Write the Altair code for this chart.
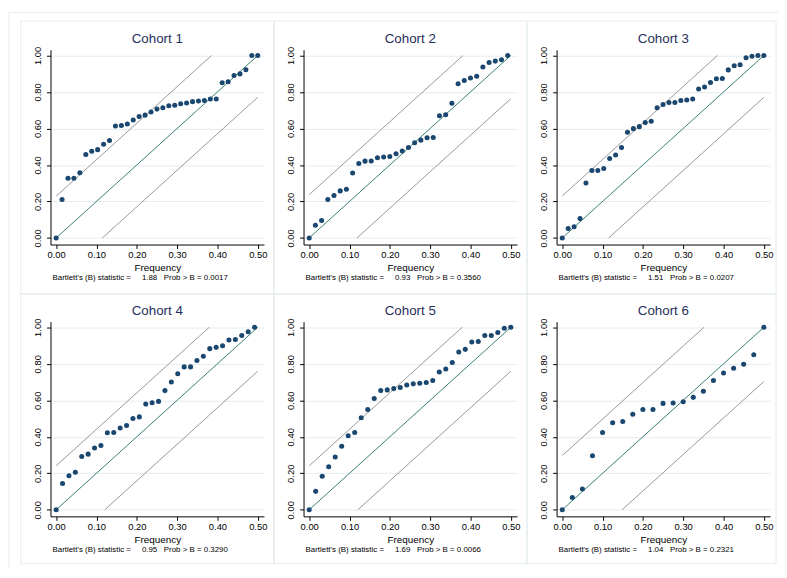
import altair as alt
import pandas as pd

# ---- data ----
cohorts = ["Cohort 1", "Cohort 2", "Cohort 3", "Cohort 4", "Cohort 5", "Cohort 6"]
# spacing of the Fourier frequencies (frequency = k / denom)
freq_denom = [68, 65, 68, 63, 62, 40]
cum_c1 = [0.000, 0.211, 0.327, 0.327, 0.357, 0.457, 0.475, 0.484, 0.514, 0.534, 0.614, 0.616,
          0.625, 0.646, 0.666, 0.673, 0.690, 0.706, 0.713, 0.724, 0.727, 0.735, 0.740, 0.747,
          0.751, 0.753, 0.762, 0.762, 0.850, 0.856, 0.890, 0.899, 0.922, 1.000, 1.000]
cum_c2 = [0.000, 0.070, 0.096, 0.211, 0.233, 0.258, 0.267, 0.356, 0.408, 0.421, 0.422, 0.440,
          0.444, 0.446, 0.462, 0.477, 0.496, 0.522, 0.536, 0.549, 0.551, 0.670, 0.675, 0.738,
          0.845, 0.863, 0.877, 0.886, 0.937, 0.962, 0.969, 0.977, 1.000]
cum_c3 = [0.000, 0.052, 0.061, 0.106, 0.301, 0.370, 0.370, 0.381, 0.435, 0.455, 0.495, 0.579,
          0.599, 0.610, 0.632, 0.639, 0.713, 0.731, 0.742, 0.742, 0.753, 0.756, 0.762, 0.816,
          0.827, 0.852, 0.872, 0.874, 0.921, 0.944, 0.949, 0.987, 0.996, 1.000, 1.000]
cum_c4 = [0.000, 0.144, 0.186, 0.206, 0.292, 0.305, 0.339, 0.352, 0.422, 0.424, 0.448, 0.462,
          0.500, 0.509, 0.579, 0.587, 0.594, 0.653, 0.700, 0.745, 0.783, 0.783, 0.818, 0.841,
          0.883, 0.890, 0.899, 0.930, 0.933, 0.955, 0.975, 1.000]
cum_c5 = [0.000, 0.101, 0.184, 0.236, 0.289, 0.348, 0.406, 0.424, 0.504, 0.549, 0.610, 0.653,
          0.657, 0.664, 0.670, 0.684, 0.690, 0.693, 0.697, 0.709, 0.755, 0.771, 0.807, 0.865,
          0.879, 0.919, 0.922, 0.955, 0.955, 0.971, 0.995, 1.000]
cum_c6 = [0.000, 0.067, 0.114, 0.296, 0.424, 0.477, 0.484, 0.523, 0.549, 0.549, 0.583, 0.585,
          0.592, 0.616, 0.650, 0.709, 0.749, 0.776, 0.798, 0.850, 1.000]
cum_values = [cum_c1, cum_c2, cum_c3, cum_c4, cum_c5, cum_c6]
# vertical offset of the confidence bands from the diagonal
band_offset = [0.229, 0.237, 0.230, 0.241, 0.241, 0.297]
bartlett_b = ["1.88", "0.93", "1.51", "0.95", "1.69", "1.04"]
prob_b = ["0.0017", "0.3560", "0.0207", "0.3290", "0.0066", "0.2321"]
x_ticks = [0.0, 0.1, 0.2, 0.3, 0.4, 0.5]
y_ticks = [0.0, 0.2, 0.4, 0.6, 0.8, 1.0]

W, H = 216, 197
FONT = "Liberation Sans"
NAVY = "#1a476f"
TEAL = "#3a7f74"
GRAY = "#8c8c8c"
GRID = "#e4ecef"
BORDER = "#e4ecef"
NB = "\u00a0"


def panel(i):
    vals = cum_values[i]
    d = freq_denom[i]
    pts = pd.DataFrame({"f": [k / d for k in range(len(vals))], "p": vals})
    c = band_offset[i]
    bands = pd.DataFrame({
        "f": [0.0, (1 - c) / 2, c / 2, 0.5],
        "p": [c, 1.0, 0.0, 1 - c],
        "b": ["upper", "upper", "lower", "lower"],
    })
    diag = pd.DataFrame({"f": [0.0, 0.5], "p": [0.0, 1.0]})
    one = pd.DataFrame({"k": [0]})

    xs = alt.Scale(domain=[-0.014, 0.5155], nice=False, zero=False)
    ys = alt.Scale(domain=[-0.036, 1.031], nice=False, zero=False)
    xax = alt.Axis(values=x_ticks, tickCount=12, format=".2f", title="Frequency", grid=False,
                   tickSize=4, tickColor="#000", domainColor="#000", labelColor="#000",
                   labelFont=FONT, labelFontSize=9.5, labelPadding=1, labelOverlap=False,
                   titleFont=FONT, titleFontSize=10, titleFontWeight="normal",
                   titleColor="#000", titlePadding=4)
    yax = alt.Axis(values=y_ticks, tickCount=12, format=".2f", title=None, grid=True,
                   gridColor=GRID, tickSize=4, tickColor="#000", domainColor="#000",
                   labelColor="#000", labelFont=FONT, labelFontSize=9.5, labelAngle=270,
                   labelAlign="center", labelBaseline="bottom", labelPadding=4,
                   labelOverlap=False)

    right = 222 if i % 3 == 2 else 226
    if i < 3:
        ry, ry2 = -29, 247
    else:
        ry, ry2 = -28, 245
    frame = alt.Chart(one).mark_rect(fill="transparent", stroke=BORDER, strokeWidth=1).encode(
        x=alt.value(-30), x2=alt.value(right), y=alt.value(ry), y2=alt.value(ry2))

    diag_l = alt.Chart(diag).mark_line(color=TEAL, strokeWidth=1).encode(
        x=alt.X("f:Q", scale=xs, axis=xax), y=alt.Y("p:Q", scale=ys, axis=yax))
    band_l = alt.Chart(bands).mark_line(color=GRAY, strokeWidth=0.9).encode(
        x="f:Q", y="p:Q", detail="b:N")
    pts_l = alt.Chart(pts).mark_circle(color=NAVY, opacity=1, size=26).encode(
        x="f:Q", y="p:Q")
    note = (f"Bartlett's (B) statistic ={NB*5}{bartlett_b[i]}{NB*3}"
            f"Prob > B = {prob_b[i]}")
    note_l = alt.Chart(one).mark_text(align="left", baseline="middle", font=FONT,
                                      fontSize=8, color="#000").encode(
        x=alt.value(2), y=alt.value(231), text=alt.value(note))
    title_l = alt.Chart(one).mark_text(align="center", baseline="middle", font=FONT,
                                       fontSize=13.5, color="#1f2f5c").encode(
        x=alt.value(W / 2), y=alt.value(-11), text=alt.value(cohorts[i]))

    layers = [frame, diag_l, band_l, pts_l, note_l, title_l]
    if i == 0:
        outer_v = alt.Chart(one).mark_rule(color=BORDER, strokeWidth=1).encode(
            x=alt.value(-42), y=alt.value(-38), y2=alt.value(524))
        outer_h = alt.Chart(one).mark_rule(color=BORDER, strokeWidth=1).encode(
            x=alt.value(-42), x2=alt.value(736), y=alt.value(-38))
        layers = [outer_v, outer_h] + layers

    return alt.layer(*layers).properties(width=W, height=H)


chart = alt.concat(*[panel(i) for i in range(6)], columns=3,
                   spacing={"row": 78, "column": 40}, bounds="flush").properties(
    padding=0, background="white"
).configure_view(stroke=None)

chart.save("out.html", embed_options={"renderer": "svg", "actions": False})
